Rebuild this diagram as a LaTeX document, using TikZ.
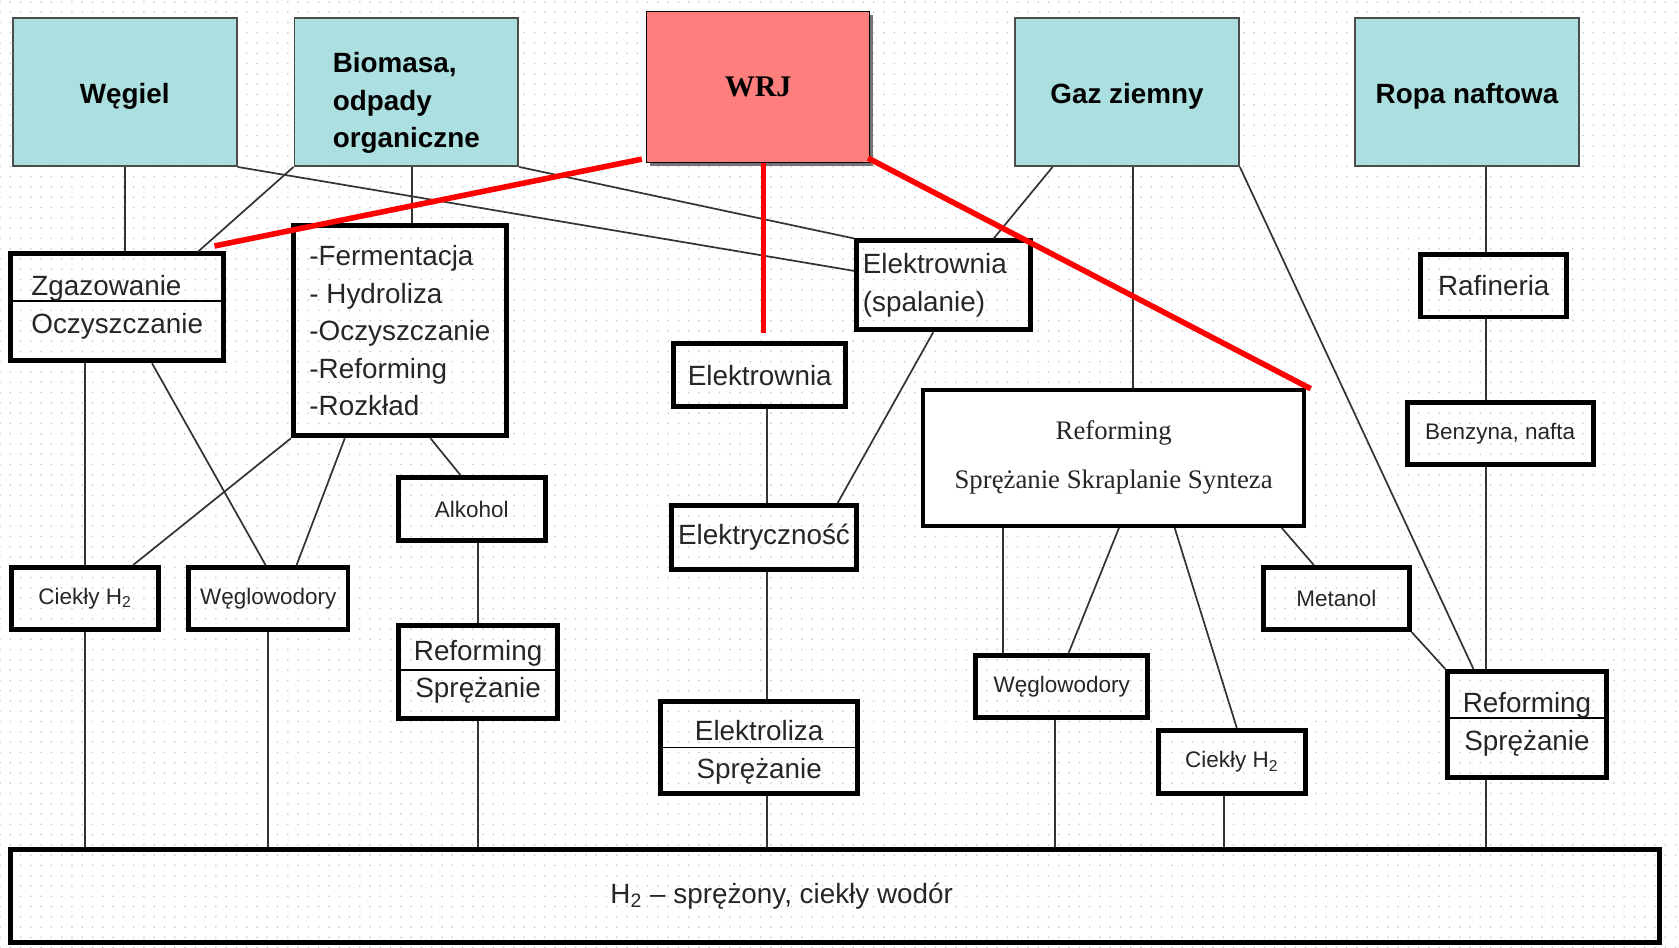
\documentclass[tikz,border=0pt]{standalone}
\usepackage{fontspec}
\setmainfont{Liberation Sans}
\newfontfamily\serifrm{Liberation Serif}
\usetikzlibrary{calc,shadows,patterns.meta}
\definecolor{srccyan}{RGB}{172,224,224}
\definecolor{wrjred}{RGB}{255,127,127}
\tikzdeclarepattern{
  name=bgdots,
  type=uncolored,
  bounding box={(-2.4pt,-2.4pt) and (2.4pt,2.4pt)},
  tile size={(4.8pt,4.8pt)},
  code={\fill (0pt,0pt) circle [radius=0.45pt];}
}
\begin{document}
\begin{tikzpicture}[x=0.5pt, y=-0.5pt,
    dims/.style 2 args={minimum width=#1pt, minimum height=#2pt},
    srcbase/.style={draw=black!70, line width=0.9pt, fill=srccyan, inner sep=0pt, align=center,
        font=\bfseries\fontsize{13}{17.5}\selectfont, dims={104.5}{69}},
    src/.style={srcbase, text height=10.5pt, text depth=0pt},
    proc/.style={draw, line width=2.3pt, inner sep=0pt, align=center, text=black!85,
        font=\fontsize{13}{17.5}\selectfont},
    smallbox/.style={proc, font=\fontsize{10.5}{13}\selectfont},
    divided/.style={path picture={\draw[line width=0.8pt]
        ([yshift=#1]path picture bounding box.west) -- ([yshift=#1]path picture bounding box.east);}},
    conn/.style={draw=black!80, line width=0.8pt},
    wrjline/.style={draw=red, line width=2.6pt}]
            \useasboundingbox (0,0) rectangle (1568,885);
            \fill[pattern=bgdots, pattern color=gray!40] (0,0) rectangle (1568,885);

            \node[src] (weg) at (116.5,86) {Węgiel};
            \node[srcbase, align=left] (bio) at (379.5,86) {\rule{0pt}{19.5pt}Biomasa,\\odpady\\organiczne};
            \node[draw, line width=0.6pt, fill=wrjred, dims={104}{70.5},
                font=\serifrm\bfseries\fontsize{14}{17}\selectfont,
                drop shadow={shadow xshift=1.5pt, shadow yshift=-1.5pt, fill=black!55, opacity=1}] (wrj) at (708,81.5) {WRJ};
            \node[src] (gaz) at (1052.5,86) {Gaz ziemny};
            \node[src] (ropa) at (1370,86) {Ropa naftowa};

            \node[proc, align=left, dims={99.5}{50}, divided=3pt] (zg) at (109.5,287) {Zgazowanie\\Oczyszczanie};
            \node[proc, align=left, dims={99.5}{98}] (ferm) at (373.5,309) {-Fermentacja\\- Hydroliza\\-Oczyszczanie\\-Reforming\\-Rozkład};
            \node[proc, align=left, dims={81}{41.5}] (spal) at (881,266.5) {Elektrownia\hspace*{8pt}\\(spalanie)};
            \node[proc, dims={80.5}{29.5}] (elek) at (709.5,350.5) {Elektrownia};
            \node[proc, dims={68}{29}] (raf) at (1395,267) {Rafineria};
            \node[smallbox, dims={87}{29}] (benz) at (1401,405) {Benzyna, nafta};
            \node[proc, line width=2pt, fill=white, dims={178}{63.5},
                font=\serifrm\fontsize{12.5}{23}\selectfont] (refb) at (1040,427.5) {Reforming\\Sprężanie Skraplanie Synteza};
            \node[smallbox, dims={68.5}{29.5}] (alk) at (440.5,475.5) {Alkohol};
            \node[proc, dims={86.5}{30}] (elc) at (713.5,502) {Elektryczność};
            \node[smallbox, dims={68.5}{29}] (ciekL) at (79.5,559) {Ciekły H\textsubscript{2}};
            \node[smallbox, dims={74.5}{29}] (weglL) at (250.5,559) {Węglowodory};
            \node[smallbox, dims={68}{29}] (met) at (1248,559) {Metanol};
            \node[proc, dims={74.5}{43.5}, divided=1pt] (refL) at (446.5,627.5) {Reforming\\Sprężanie};
            \node[smallbox, dims={80.5}{29}] (weglR) at (991.5,641) {Węglowodory};
            \node[proc, dims={92}{43}, divided=0pt] (elz) at (709,698) {\rule{0pt}{14pt}Elektroliza\\Sprężanie};
            \node[smallbox, dims={68.5}{29.5}] (ciekR) at (1150.5,711.5) {Ciekły H\textsubscript{2}};
            \node[proc, dims={74}{49.5}, divided=3pt] (refR) at (1426,676.5) {Reforming\\Sprężanie};
            \node[proc, dims={770}{43.5}] (h2) at (780,836.5) {H\textsubscript{2} – sprężony, ciekły wodór\hspace*{50pt}};

            \draw[conn] (weg.south) -- (weg.south |- zg.north);
            \draw[conn] (bio.south west) -- ($(zg.north east)+(-26,0)$);
            \draw[conn] (weg.south east) -- ($(spal.west)+(0,-13.5)$);
            \draw[conn] (bio.south east) -- (spal.north west);
            \draw[conn] ($(bio.south)+(5.5,0)$) -- ($(bio.south |- ferm.north)+(5.5,0)$);
            \draw[conn] (ferm.south west) -- ($(ciekL.north east)+(-26,0)$);
            \draw[conn] ($(ferm.south)+(-51.5,0)$) -- ($(weglL.north)+(26.5,0)$);
            \draw[conn] ($(ferm.south)+(28.5,0)$) -- ($(alk.north)+(-10.5,0)$);
            \draw[conn] (ciekL.north |- zg.south) -- (ciekL.north);
            \draw[conn] (ciekL.south) -- (ciekL.south |- h2.north);
            \draw[conn] ($(zg.south)+(32.5,0)$) -- ($(weglL.north)+(-2.5,0)$);
            \draw[conn] (weglL.south) -- (weglL.south |- h2.north);
            \draw[conn] (refL.north |- alk.south) -- (refL.north);
            \draw[conn] (refL.south) -- (refL.south |- h2.north);
            \draw[conn] ($(elek.south)+(6.5,0)$) -- ($(elc.north)+(2.5,0)$);
            \draw[conn] ($(elc.south)+(2.5,0)$) -- ($(elz.north)+(7,0)$);
            \draw[conn] ($(elz.south)+(7,0)$) -- ($(elz.south |- h2.north)+(7,0)$);
            \draw[conn] ($(spal.south)+(-9.5,0)$) -- ($(elc.north east)+(-20,0)$);
            \draw[conn] ($(gaz.south)+(-69.5,0)$) -- ($(spal.north)+(47,0)$);
            \draw[conn] ($(gaz.south)+(5.5,0)$) -- ($(refb.north)+(18,0)$);
            \draw[conn] (gaz.south east) -- ($(refR.north)+(-50,0)$);
            \draw[conn] ($(refb.south)+(-103,0)$) -- ($(weglR.north)+(-54.5,0)$);
            \draw[conn] ($(refb.south)+(5,0)$) -- ($(weglR.north)+(6.5,0)$);
            \draw[conn] ($(refb.south)+(57,0)$) -- ($(ciekR.north)+(4.5,0)$);
            \draw[conn] ($(refb.south)+(157,0)$) -- ($(met.north)+(-21,0)$);
            \draw[conn] (met.south east) -- (refR.north west);
            \draw[conn] ($(weglR.south)+(-6.5,0)$) -- ($(weglR.south |- h2.north)+(-6.5,0)$);
            \draw[conn] ($(ciekR.south)+(-7.5,0)$) -- ($(ciekR.south |- h2.north)+(-7.5,0)$);
            \draw[conn] ($(ropa.south)+(18,0)$) -- ($(raf.north)+(-7,0)$);
            \draw[conn] ($(raf.south)+(-7,0)$) -- ($(benz.north)+(-13,0)$);
            \draw[conn] ($(benz.south)+(-13,0)$) -- ($(refR.north)+(-38,0)$);
            \draw[conn] ($(refR.south)+(-38,0)$) -- ($(refR.south |- h2.north)+(-38,0)$);

            \draw[wrjline] ($(wrj.south west)+(-4,-4)$) -- ($(zg.north east)+(-11,-5)$);
            \draw[wrjline] ($(wrj.south)+(5,0)$) -- ($(elek.north)+(3.5,-8)$);
            \draw[wrjline] ($(wrj.south east)+(-2,-5)$) -- ($(refb.north east)+(4,1)$);
\end{tikzpicture}
\end{document}
